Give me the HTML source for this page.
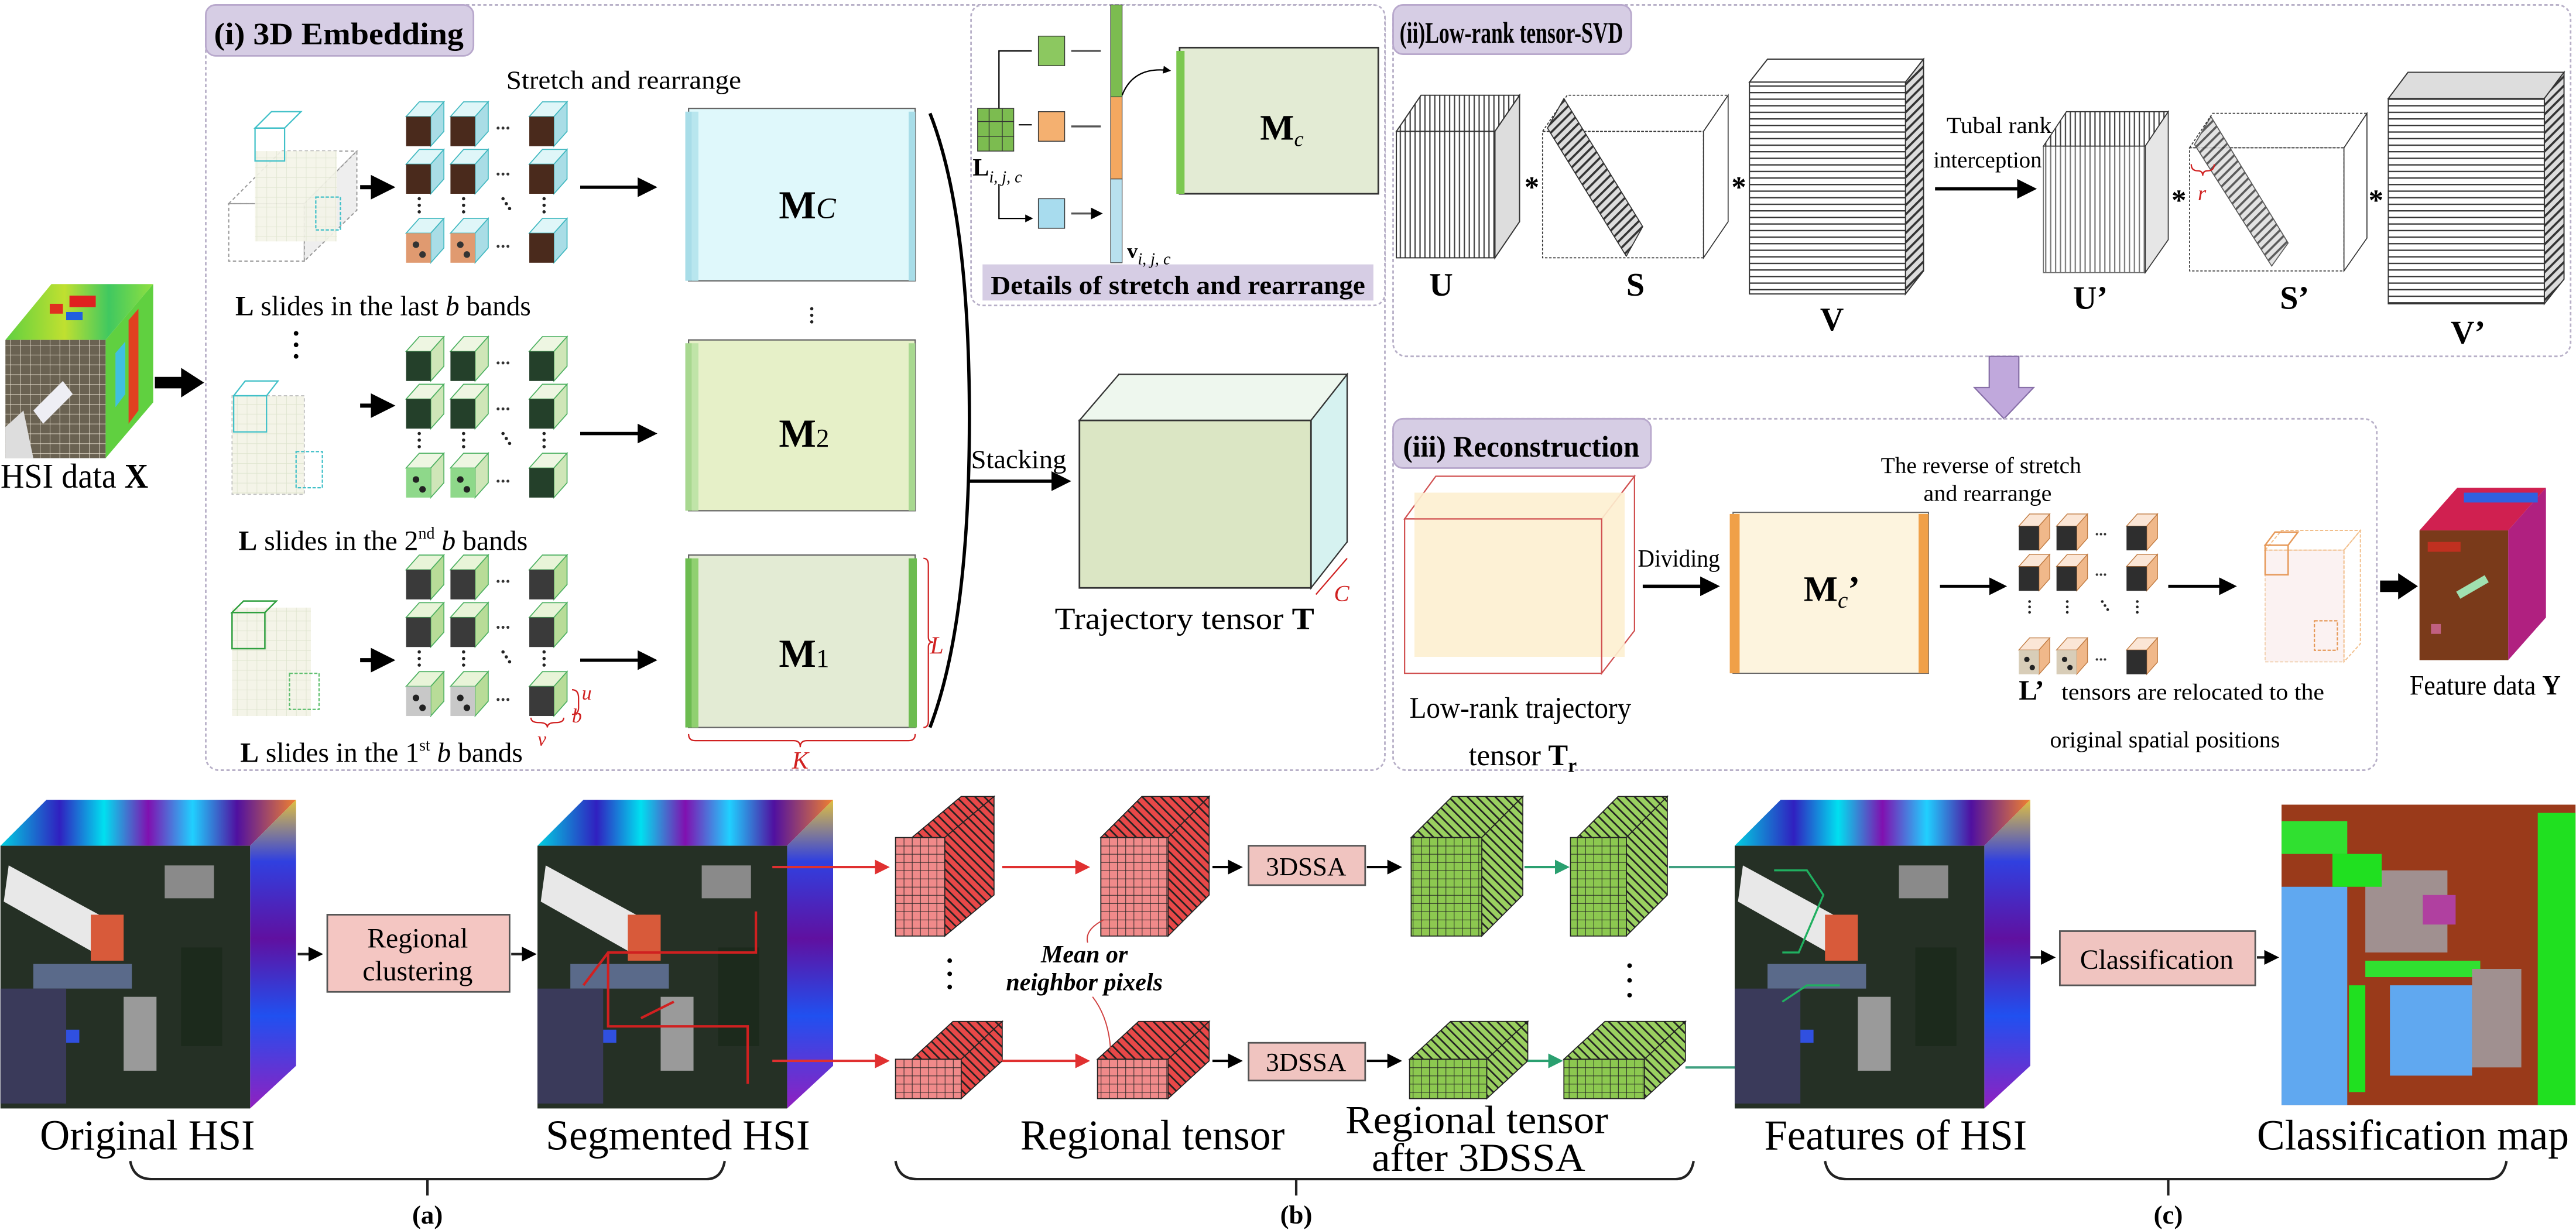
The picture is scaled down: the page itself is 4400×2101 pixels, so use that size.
<!DOCTYPE html>
<html><head><meta charset="utf-8"><style>
html,body{margin:0;padding:0;background:#fff}
svg{display:block}
text{font-family:"Liberation Serif",serif}
</style></head><body>
<svg width="4400" height="2101" viewBox="0 0 1568 749" xmlns="http://www.w3.org/2000/svg" font-family="Liberation Serif, serif">
<defs>
<marker id="ah" markerWidth="6" markerHeight="6" refX="5" refY="3" orient="auto" markerUnits="strokeWidth"><path d="M0,0 L6,3 L0,6z" fill="#000"/></marker>
<marker id="ahr" markerWidth="6" markerHeight="6" refX="5" refY="3" orient="auto" markerUnits="strokeWidth"><path d="M0,0 L6,3 L0,6z" fill="#e03030"/></marker>
<marker id="ahg" markerWidth="6" markerHeight="6" refX="5" refY="3" orient="auto" markerUnits="strokeWidth"><path d="M0,0 L6,3 L0,6z" fill="#2aa070"/></marker>
<pattern id="vstr" width="3" height="10" patternUnits="userSpaceOnUse"><rect width="3" height="10" fill="#fff"/><rect width="0.8" height="10" fill="#444"/></pattern>
<pattern id="hstr" width="10" height="4" patternUnits="userSpaceOnUse"><rect width="10" height="4" fill="#fff"/><rect width="10" height="0.8" fill="#333"/></pattern>
<pattern id="dstr" width="4" height="4" patternUnits="userSpaceOnUse" patternTransform="rotate(45)"><rect width="4" height="4" fill="#ddd"/><rect width="1.3" height="4" fill="#333"/></pattern>
<pattern id="rgrid" width="5" height="5" patternUnits="userSpaceOnUse"><rect width="5" height="5" fill="#f08a8a"/><path d="M0,0H5M0,0V5" stroke="#222" stroke-width="0.7"/></pattern>
<pattern id="rdiag" width="4" height="4" patternUnits="userSpaceOnUse" patternTransform="rotate(-45)"><rect width="4" height="4" fill="#e84848"/><rect width="1" height="4" fill="#222"/></pattern>
<pattern id="ggrid" width="5" height="5" patternUnits="userSpaceOnUse"><rect width="5" height="5" fill="#8cc850"/><path d="M0,0H5M0,0V5" stroke="#222" stroke-width="0.7"/></pattern>
<pattern id="gdiag" width="4" height="4" patternUnits="userSpaceOnUse" patternTransform="rotate(-45)"><rect width="4" height="4" fill="#9ad060"/><rect width="1" height="4" fill="#222"/></pattern>
<pattern id="lgrid" width="6" height="6" patternUnits="userSpaceOnUse"><rect width="6" height="6" fill="#f4f4e8"/><path d="M0,0H6M0,0V6" stroke="#dde3cc" stroke-width="0.6"/></pattern>
<pattern id="xgrid" width="6" height="6" patternUnits="userSpaceOnUse"><rect width="6" height="6" fill="none"/><path d="M0,0H6M0,0V6" stroke="#e8e0d0" stroke-width="0.6"/></pattern>
<linearGradient id="hsitop" x1="0" x2="1"><stop offset="0" stop-color="#00d0e0"/><stop offset=".2" stop-color="#3020c0"/><stop offset=".35" stop-color="#00e0f0"/><stop offset=".5" stop-color="#8010b0"/><stop offset=".65" stop-color="#20d0ff"/><stop offset=".8" stop-color="#5010a0"/><stop offset="1" stop-color="#f08030"/></linearGradient>
<linearGradient id="hsiside" x1="0" y1="0" x2="0" y2="1"><stop offset="0" stop-color="#e0c040"/><stop offset=".2" stop-color="#3040e0"/><stop offset=".45" stop-color="#6010a0"/><stop offset=".7" stop-color="#2050f0"/><stop offset="1" stop-color="#9020c0"/></linearGradient>
<linearGradient id="xtop" x1="0" x2="1"><stop offset="0" stop-color="#60d040"/><stop offset=".4" stop-color="#c0e030"/><stop offset=".7" stop-color="#40c860"/><stop offset="1" stop-color="#90e040"/></linearGradient>
<g id="cC"><polygon points="0,9 8,0 23,0 15,9" fill="#dff6f8" stroke="#40b8c0" stroke-width=".6"/><polygon points="15,9 23,0 23,18 15,27" fill="#a9dde6" stroke="#40b8c0" stroke-width=".6"/><rect x="0" y="9" width="15" height="18" fill="#4a2a1c"/></g>
<g id="cCo"><polygon points="0,9 8,0 23,0 15,9" fill="#dff6f8" stroke="#40b8c0" stroke-width=".6"/><polygon points="15,9 23,0 23,18 15,27" fill="#a9dde6" stroke="#40b8c0" stroke-width=".6"/><rect x="0" y="9" width="15" height="18" fill="#e09a70"/><circle cx="6" cy="16" r="2" fill="#333"/><circle cx="10" cy="22" r="2" fill="#333"/></g>
<g id="cG"><polygon points="0,9 8,0 23,0 15,9" fill="#eef6e2" stroke="#4cb060" stroke-width=".6"/><polygon points="15,9 23,0 23,18 15,27" fill="#cfe6b8" stroke="#4cb060" stroke-width=".6"/><rect x="0" y="9" width="15" height="18" fill="#24402a"/></g>
<g id="cGl"><polygon points="0,9 8,0 23,0 15,9" fill="#eef6e2" stroke="#4cb060" stroke-width=".6"/><polygon points="15,9 23,0 23,18 15,27" fill="#cfe6b8" stroke="#4cb060" stroke-width=".6"/><rect x="0" y="9" width="15" height="18" fill="#8ed88a"/><circle cx="6" cy="16" r="2" fill="#222"/><circle cx="10" cy="22" r="2" fill="#222"/></g>
<g id="cK"><polygon points="0,9 8,0 23,0 15,9" fill="#e8f4d8" stroke="#4cb060" stroke-width=".6"/><polygon points="15,9 23,0 23,18 15,27" fill="#b8dc98" stroke="#4cb060" stroke-width=".6"/><rect x="0" y="9" width="15" height="18" fill="#3a3a3a"/></g>
<g id="cKl"><polygon points="0,9 8,0 23,0 15,9" fill="#e8f4d8" stroke="#4cb060" stroke-width=".6"/><polygon points="15,9 23,0 23,18 15,27" fill="#b8dc98" stroke="#4cb060" stroke-width=".6"/><rect x="0" y="9" width="15" height="18" fill="#c8c8c8"/><circle cx="6" cy="16" r="2" fill="#222"/><circle cx="10" cy="22" r="2" fill="#222"/></g>
<g id="cO"><polygon points="0,9 8,0 23,0 15,9" fill="#fbe6d6" stroke="#c07a40" stroke-width=".6"/><polygon points="15,9 23,0 23,18 15,27" fill="#f0b88a" stroke="#c07a40" stroke-width=".6"/><rect x="0" y="9" width="15" height="18" fill="#2e2e2e"/></g>
<g id="cOl"><polygon points="0,9 8,0 23,0 15,9" fill="#fbe6d6" stroke="#c07a40" stroke-width=".6"/><polygon points="15,9 23,0 23,18 15,27" fill="#f0b88a" stroke="#c07a40" stroke-width=".6"/><rect x="0" y="9" width="15" height="18" fill="#d8cdb8"/><circle cx="6" cy="16" r="2" fill="#222"/><circle cx="10" cy="22" r="2" fill="#222"/></g>
<g id="dots"><circle cx="0" cy="0" r=".9" fill="#333"/><circle cx="3" cy="0" r=".9" fill="#333"/><circle cx="6" cy="0" r=".9" fill="#333"/></g>
<g id="vdots"><circle cx="0" cy="0" r="1" fill="#222"/><circle cx="0" cy="4" r="1" fill="#222"/><circle cx="0" cy="8" r="1" fill="#222"/></g>
<g id="ddots"><circle cx="0" cy="0" r="1" fill="#222"/><circle cx="2" cy="3" r="1" fill="#222"/><circle cx="4" cy="6" r="1" fill="#222"/></g>
<g id="hsi">
<polygon points="0,28 28,0 180,0 152,28" fill="url(#hsitop)"/>
<polygon points="152,28 180,0 180,162 152,188" fill="url(#hsiside)"/>
<rect x="0" y="28" width="152" height="160" fill="#253025"/>
<polygon points="5,40 60,70 55,92 2,62" fill="#e8e8e8"/>
<rect x="55" y="70" width="20" height="28" fill="#d85a3a"/>
<rect x="20" y="100" width="60" height="15" fill="#5a6a8a"/>
<rect x="0" y="115" width="40" height="70" fill="#3a3a5a"/>
<rect x="75" y="120" width="20" height="45" fill="#9a9a9a"/>
<rect x="40" y="140" width="8" height="8" fill="#3050e0"/>
<rect x="100" y="40" width="30" height="20" fill="#8a8a8a"/>
<rect x="110" y="90" width="25" height="60" fill="#1c2a1c"/>
</g>
</defs>

<!-- ============ TOP LEFT: HSI X ============ -->
<polygon points="3,207 31,173 93,173 64,207" fill="url(#xtop)"/>
<rect x="30" y="185" width="8" height="6" fill="#e03020"/><rect x="42" y="180" width="16" height="7" fill="#e02020"/><rect x="40" y="190" width="10" height="5" fill="#2060e0"/>
<polygon points="64,207 93,173 93,245 64,279" fill="#60d040"/>
<polygon points="78,195 84,188 84,250 78,258" fill="#e04020"/>
<polygon points="70,215 76,208 76,240 70,248" fill="#40c0e0"/>
<rect x="3" y="207" width="61" height="72" fill="#6a6252"/>
<rect x="3" y="207" width="61" height="72" fill="url(#xgrid)"/>
<polygon points="20,250 38,232 44,240 26,258" fill="#eeeef4"/>
<polygon points="3,260 14,250 20,279 3,279" fill="#ddd"/>
<text x="0" y="297" font-size="21" textLength="90" lengthAdjust="spacingAndGlyphs">HSI data <tspan font-weight="bold">X</tspan></text>
<path d="M94,233 H112" stroke="#000" stroke-width="7"/><polygon points="110,224 124,233 110,242" fill="#000"/>

<!-- ============ PANEL (i) ============ -->
<rect x="125" y="3" width="718" height="466" rx="8" fill="none" stroke="#b8b0c8" stroke-width="1" stroke-dasharray="2,1.5"/>
<rect x="125" y="3" width="163" height="31" rx="6" fill="#d6cde4" stroke="#b8a8cc"/>
<text x="130" y="27" font-size="19" font-weight="bold" textLength="152" lengthAdjust="spacingAndGlyphs">(i) 3D Embedding</text>
<text x="308" y="54" font-size="16" textLength="143" lengthAdjust="spacingAndGlyphs">Stretch and rearrange</text>

<g>
<polygon points="139,124 171,92 217,92 185,124" fill="none" stroke="#999" stroke-dasharray="2,1.5" stroke-width=".7"/>
<rect x="139" y="124" width="46" height="35" fill="none" stroke="#999" stroke-dasharray="2,1.5" stroke-width=".7"/>
<polygon points="185,124 217,92 217,128 185,159" fill="#eeeeee" stroke="#999" stroke-dasharray="2,1.5" stroke-width=".7"/>
<rect x="155" y="92" width="50" height="55" fill="url(#lgrid)" opacity=".9"/>
<rect x="155" y="78" width="18" height="20" fill="none" stroke="#40c0c8" stroke-width=".8"/>
<polygon points="155,78 165,68 183,68 173,78" fill="none" stroke="#40c0c8" stroke-width=".8"/>
<rect x="192" y="120" width="15" height="20" fill="none" stroke="#40c0c8" stroke-width=".8" stroke-dasharray="2,1"/>
<path d="M219,114 H238" stroke="#000" stroke-width="2.5" marker-end="url(#ah)"/>
<use href="#cC" x="247" y="62"/><use href="#cC" x="274" y="62"/><use href="#cC" x="322" y="62"/>
<use href="#cC" x="247" y="91"/><use href="#cC" x="274" y="91"/><use href="#cC" x="322" y="91"/>
<use href="#cCo" x="247" y="133"/><use href="#cCo" x="274" y="133"/><use href="#cC" x="322" y="133"/>
<use href="#dots" x="303" y="78"/><use href="#dots" x="303" y="106"/><use href="#dots" x="303" y="150"/>
<use href="#vdots" x="255" y="121"/><use href="#vdots" x="282" y="121"/><use href="#ddots" x="306" y="121"/><use href="#vdots" x="331" y="121"/>
<path d="M353,114 H398" stroke="#000" stroke-width="2" marker-end="url(#ah)"/>
<text x="143" y="192" font-size="17" textLength="180" lengthAdjust="spacingAndGlyphs"><tspan font-weight="bold">L</tspan> slides in the last <tspan font-style="italic">b</tspan> bands</text>
</g>
<circle cx="180" cy="203" r="1.4"/><circle cx="180" cy="210" r="1.4"/><circle cx="180" cy="217" r="1.4"/>

<g>
<rect x="141" y="241" width="44" height="60" fill="url(#lgrid)" stroke="#bbb" stroke-dasharray="2,1.5" stroke-width=".6"/>
<rect x="142" y="241" width="20" height="22" fill="none" stroke="#40c0c8" stroke-width=".8"/>
<polygon points="142,241 149,232 169,232 162,241" fill="none" stroke="#40c0c8" stroke-width=".8"/>
<rect x="180" y="275" width="16" height="22" fill="none" stroke="#40c0c8" stroke-width=".8" stroke-dasharray="2,1"/>
<path d="M219,247 H238" stroke="#000" stroke-width="2.5" marker-end="url(#ah)"/>
<use href="#cG" x="247" y="205"/><use href="#cG" x="274" y="205"/><use href="#cG" x="322" y="205"/>
<use href="#cG" x="247" y="234"/><use href="#cG" x="274" y="234"/><use href="#cG" x="322" y="234"/>
<use href="#cGl" x="247" y="276"/><use href="#cGl" x="274" y="276"/><use href="#cG" x="322" y="276"/>
<use href="#dots" x="303" y="221"/><use href="#dots" x="303" y="249"/><use href="#dots" x="303" y="293"/>
<use href="#vdots" x="255" y="264"/><use href="#vdots" x="282" y="264"/><use href="#ddots" x="306" y="264"/><use href="#vdots" x="331" y="264"/>
<path d="M353,264 H398" stroke="#000" stroke-width="2" marker-end="url(#ah)"/>
<text x="145" y="335" font-size="17" textLength="176" lengthAdjust="spacingAndGlyphs"><tspan font-weight="bold">L</tspan> slides in the 2<tspan font-size="10" dy="-7">nd</tspan><tspan dy="7"> </tspan><tspan font-style="italic">b</tspan> bands</text>
</g>

<g>
<rect x="141" y="370" width="48" height="66" fill="url(#lgrid)"/>
<rect x="141" y="373" width="20" height="22" fill="none" stroke="#30a040" stroke-width=".9"/>
<polygon points="141,373 148,366 168,366 161,373" fill="none" stroke="#30a040" stroke-width=".9"/>
<rect x="176" y="410" width="18" height="22" fill="none" stroke="#60c070" stroke-width=".8" stroke-dasharray="2,1"/>
<path d="M219,402 H238" stroke="#000" stroke-width="2.5" marker-end="url(#ah)"/>
<use href="#cK" x="247" y="338"/><use href="#cK" x="274" y="338"/><use href="#cK" x="322" y="338"/>
<use href="#cK" x="247" y="367"/><use href="#cK" x="274" y="367"/><use href="#cK" x="322" y="367"/>
<use href="#cKl" x="247" y="409"/><use href="#cKl" x="274" y="409"/><use href="#cK" x="322" y="409"/>
<use href="#dots" x="303" y="354"/><use href="#dots" x="303" y="382"/><use href="#dots" x="303" y="426"/>
<use href="#vdots" x="255" y="397"/><use href="#vdots" x="282" y="397"/><use href="#ddots" x="306" y="397"/><use href="#vdots" x="331" y="397"/>
<path d="M353,402 H398" stroke="#000" stroke-width="2" marker-end="url(#ah)"/>
<path d="M348,420 q4,0 4,5 v6 q0,4 -4,4" fill="none" stroke="#d02020" stroke-width=".8"/>
<text x="354" y="426" font-size="12" fill="#d02020" font-style="italic">u</text>
<text x="348" y="440" font-size="12" fill="#d02020" font-style="italic">b</text>
<path d="M323,437 q0,3 5,3 q5,0 5,3 q0,-3 5,-3 q5,0 5,-3" fill="none" stroke="#d02020" stroke-width=".8"/>
<text x="327" y="454" font-size="12" fill="#d02020" font-style="italic">v</text>
<text x="146" y="464" font-size="17" textLength="172" lengthAdjust="spacingAndGlyphs"><tspan font-weight="bold">L</tspan> slides in the 1<tspan font-size="10" dy="-7">st</tspan><tspan dy="7"> </tspan><tspan font-style="italic">b</tspan> bands</text>
</g>

<g>
<rect x="419" y="66" width="138" height="105" fill="#dff8fb" stroke="#666" stroke-width=".8"/>
<rect x="417" y="68" width="4" height="103" fill="#a8dde8"/><rect x="421" y="68" width="4" height="103" fill="#b8e6ee"/>
<rect x="553" y="68" width="4" height="103" fill="#a8dde8"/>
<text x="474" y="133" font-size="24" font-weight="bold">M<tspan font-size="18" font-style="italic" font-weight="normal">C</tspan></text>
<use href="#vdots" x="494" y="188"/>
<rect x="419" y="207" width="138" height="104" fill="#e6f0c8" stroke="#666" stroke-width=".8"/>
<rect x="417" y="209" width="4" height="102" fill="#a8d890"/><rect x="421" y="209" width="4" height="102" fill="#c0e4a8"/>
<rect x="553" y="209" width="4" height="102" fill="#a8d890"/>
<text x="474" y="272" font-size="24" font-weight="bold">M<tspan font-size="16" font-weight="normal">2</tspan></text>
<rect x="419" y="338" width="138" height="105" fill="#e3ebd4" stroke="#666" stroke-width=".8"/>
<rect x="417" y="340" width="4" height="103" fill="#6cbc50"/><rect x="421" y="340" width="4" height="103" fill="#90d070"/>
<rect x="553" y="340" width="5" height="103" fill="#6cbc50"/>
<text x="474" y="406" font-size="24" font-weight="bold">M<tspan font-size="16" font-weight="normal">1</tspan></text>
<path d="M562,340 q3,0 3,4 v44 q0,3 3,3 q-3,0 -3,3 v45 q0,4 -3,4" fill="none" stroke="#d02020" stroke-width=".8"/>
<text x="566" y="398" font-size="15" fill="#d02020" font-style="italic">L</text>
<path d="M419,447 q0,4 4,4 h60 q4,0 4,4 q0,-4 4,-4 h62 q4,0 4,-4" fill="none" stroke="#d02020" stroke-width=".8"/>
<text x="482" y="468" font-size="15" fill="#d02020" font-style="italic">K</text>
<path d="M566,69 Q590,130 590,255 Q590,380 566,443" fill="none" stroke="#000" stroke-width="2"/>
</g>

<path d="M590,293 H650" stroke="#000" stroke-width="2" marker-end="url(#ah)"/>
<text x="591" y="285" font-size="16" textLength="58" lengthAdjust="spacingAndGlyphs">Stacking</text>
<g>
<polygon points="681,228 820,228 820,330 681,330" fill="#ddf6f8" stroke="#333" stroke-width=".8"/>
<polygon points="657,256 681,228 820,228 798,256" fill="#eef7ee" stroke="#333" stroke-width=".8"/>
<polygon points="798,256 820,228 820,330 798,358" fill="#d6f2f0" stroke="#333" stroke-width=".8"/>
<rect x="657" y="256" width="141" height="102" fill="#dbe6c4" stroke="#333" stroke-width="1"/>
<path d="M801,362 L820,340" stroke="#d02020" stroke-width=".8"/>
<text x="812" y="366" font-size="14" fill="#d02020" font-style="italic">C</text>
<text x="642" y="383" font-size="19" textLength="158" lengthAdjust="spacingAndGlyphs">Trajectory tensor <tspan font-weight="bold">T</tspan></text>
</g>

<g>
<rect x="591" y="3" width="252" height="183" rx="7" fill="#fff" stroke="#b8b0c8" stroke-dasharray="2,1.5"/>
<rect x="598" y="161" width="238" height="22" fill="#d6cde4"/>
<text x="603" y="179" font-size="16" font-weight="bold" textLength="228" lengthAdjust="spacingAndGlyphs">Details of stretch and rearrange</text>
<rect x="595" y="66" width="22" height="26" fill="#7cbc50" stroke="#333" stroke-width=".5"/>
<path d="M595,74H617M595,83H617M602,66V92M610,66V92" stroke="#333" stroke-width=".5"/>
<rect x="632" y="22" width="16" height="18" fill="#8cc860" stroke="#333" stroke-width=".5"/>
<rect x="632" y="68" width="16" height="18" fill="#f4b070" stroke="#333" stroke-width=".5"/>
<rect x="632" y="121" width="16" height="18" fill="#a8dcee" stroke="#333" stroke-width=".5"/>
<path d="M608,66 V31 H628 M620,76 H628 M608,112 V133 H628" fill="none" stroke="#000" stroke-width=".8" marker-end="url(#ah)"/>
<path d="M652,31 H670 M652,77 H670 M652,130 H670" stroke="#555" stroke-width="1.2" marker-end="url(#ah)"/>
<rect x="676" y="3" width="7" height="56" fill="#7cbc50" stroke="#333" stroke-width=".4"/>
<rect x="676" y="59" width="7" height="50" fill="#f4a860" stroke="#333" stroke-width=".4"/>
<rect x="676" y="109" width="7" height="51" fill="#b8e0ee" stroke="#333" stroke-width=".4"/>
<path d="M683,58 Q690,40 712,43" fill="none" stroke="#000" stroke-width=".8" marker-end="url(#ah)"/>
<rect x="718" y="29" width="121" height="89" fill="#e3ebd4" stroke="#333" stroke-width="1"/>
<rect x="716" y="31" width="5" height="87" fill="#7cc850"/>
<text x="767" y="85" font-size="22" font-weight="bold">M<tspan font-size="13" font-style="italic" font-weight="normal" dy="4">c</tspan></text>
<text x="592" y="107" font-size="15" font-weight="bold">L<tspan font-size="10" font-style="italic" font-weight="normal" dy="4">i, j, c</tspan></text>
<text x="686" y="157" font-size="13" font-weight="bold">v<tspan font-size="10" font-style="italic" font-weight="normal" dy="4">i, j, c</tspan></text>
</g>

<!-- ============ PANEL (ii) ============ -->
<rect x="848" y="3" width="717" height="214" rx="8" fill="none" stroke="#b8b0c8" stroke-dasharray="2,1.5"/>
<rect x="848" y="3" width="145" height="30" rx="6" fill="#d6cde4" stroke="#b8a8cc"/>
<text x="852" y="26" font-size="18" font-weight="bold" textLength="136" lengthAdjust="spacingAndGlyphs">(ii)Low-rank tensor-SVD</text>
<polygon points="850,80 865,58 925,58 910,80" fill="url(#vstr)" stroke="#333" stroke-width=".7"/>
<polygon points="910,80 925,58 925,135 910,157" fill="#ddd" stroke="#333" stroke-width=".7"/>
<rect x="850" y="80" width="60" height="77" fill="url(#vstr)" stroke="#333" stroke-width=".7"/>
<text x="870" y="180" font-size="20" font-weight="bold">U</text>
<text x="928" y="120" font-size="18" font-weight="bold">*</text>
<polygon points="939,80 954,58 1052,58 1037,80" fill="none" stroke="#333" stroke-width=".6" stroke-dasharray="1.5,1"/>
<rect x="939" y="80" width="98" height="77" fill="none" stroke="#333" stroke-width=".6" stroke-dasharray="1.5,1"/>
<polygon points="1037,80 1052,58 1052,135 1037,157" fill="none" stroke="#333" stroke-width=".6"/>
<polygon points="942,78 952,60 1000,138 990,156" fill="url(#dstr)" stroke="#333" stroke-width=".6"/>
<text x="990" y="180" font-size="20" font-weight="bold">S</text>
<text x="1054" y="120" font-size="18" font-weight="bold">*</text>
<polygon points="1065,50 1076,36 1171,36 1160,50" fill="#fff" stroke="#333" stroke-width=".7"/>
<polygon points="1160,50 1171,36 1171,165 1160,179" fill="url(#dstr)" stroke="#333" stroke-width=".7"/>
<rect x="1065" y="50" width="95" height="129" fill="url(#hstr)" stroke="#333" stroke-width=".7"/>
<text x="1108" y="201" font-size="20" font-weight="bold">V</text>
<text x="1185" y="81" font-size="14" textLength="64" lengthAdjust="spacingAndGlyphs">Tubal rank</text>
<text x="1177" y="102" font-size="14" textLength="66" lengthAdjust="spacingAndGlyphs">interception</text>
<path d="M1178,115 H1238" stroke="#000" stroke-width="2" marker-end="url(#ah)"/>
<polygon points="1244,89 1258,68 1320,68 1306,89" fill="url(#vstr)" stroke="#333" stroke-width=".6"/>
<polygon points="1306,89 1320,68 1320,146 1306,166" fill="#e6e6e6" stroke="#333" stroke-width=".6"/>
<rect x="1244" y="89" width="62" height="77" fill="url(#vstr)" stroke="#333" stroke-width=".6" opacity=".7"/>
<text x="1262" y="188" font-size="20" font-weight="bold">U’</text>
<text x="1322" y="128" font-size="18" font-weight="bold">*</text>
<polygon points="1333,90 1347,69 1441,69 1427,90" fill="none" stroke="#333" stroke-width=".6" stroke-dasharray="1.5,1"/>
<rect x="1333" y="90" width="94" height="75" fill="none" stroke="#333" stroke-width=".6" stroke-dasharray="1.5,1"/>
<polygon points="1427,90 1441,69 1441,145 1427,165" fill="none" stroke="#333" stroke-width=".6"/>
<polygon points="1336,88 1346,71 1393,148 1383,162" fill="url(#dstr)" stroke="#333" stroke-width=".6" opacity=".8"/>
<path d="M1334,100 q0,4 4,4 q3,0 3,3 q0,-3 3,-3 q4,0 4,-4" fill="none" stroke="#d02020" stroke-width=".8"/>
<text x="1338" y="122" font-size="13" fill="#d02020" font-style="italic">r</text>
<text x="1388" y="188" font-size="20" font-weight="bold">S’</text>
<text x="1442" y="128" font-size="18" font-weight="bold">*</text>
<polygon points="1454,60 1466,44 1561,44 1549,60" fill="#ddd" stroke="#333" stroke-width=".7"/>
<polygon points="1549,60 1561,44 1561,170 1549,185" fill="url(#dstr)" stroke="#333" stroke-width=".7"/>
<rect x="1454" y="60" width="95" height="125" fill="url(#hstr)" stroke="#333" stroke-width=".7"/>
<text x="1492" y="209" font-size="20" font-weight="bold">V’</text>

<polygon points="1211,217 1229,217 1229,236 1238,236 1220,255 1202,236 1211,236" fill="#c0a8dc" stroke="#8870a8" stroke-width=".8"/>

<!-- ============ PANEL (iii) ============ -->
<rect x="848" y="255" width="599" height="214" rx="8" fill="none" stroke="#b8b0c8" stroke-dasharray="2,1.5"/>
<rect x="848" y="255" width="157" height="30" rx="6" fill="#d6cde4" stroke="#b8a8cc"/>
<text x="854" y="278" font-size="18" font-weight="bold" textLength="144" lengthAdjust="spacingAndGlyphs">(iii) Reconstruction</text>
<polygon points="855,316 874,290 995,290 975,316" fill="#fff" stroke="#d05050" stroke-width=".8"/>
<polygon points="975,316 995,290 995,384 975,410" fill="#fff" stroke="#d05050" stroke-width=".8"/>
<rect x="861" y="300" width="128" height="100" fill="#fdf0d0" opacity=".9"/>
<rect x="855" y="316" width="120" height="94" fill="none" stroke="#d05050" stroke-width=".8"/>
<text x="858" y="437" font-size="18" textLength="135" lengthAdjust="spacingAndGlyphs">Low-rank trajectory</text>
<text x="894" y="466" font-size="18">tensor <tspan font-weight="bold">T</tspan><tspan font-size="12" font-weight="bold" dy="4">r</tspan></text>
<text x="997" y="345" font-size="15" textLength="50" lengthAdjust="spacingAndGlyphs">Dividing</text>
<path d="M1000,357 H1045" stroke="#000" stroke-width="2" marker-end="url(#ah)"/>
<rect x="1055" y="312" width="119" height="98" fill="#fdf4de" stroke="#666" stroke-width=".7"/>
<rect x="1053" y="313" width="6" height="97" fill="#f0a048"/>
<rect x="1168" y="313" width="6" height="97" fill="#f0a048"/>
<text x="1098" y="366" font-size="22" font-weight="bold">M<tspan font-size="14" font-style="italic" font-weight="normal" dy="4">c</tspan><tspan dy="-4">’</tspan></text>
<text x="1145" y="288" font-size="14" textLength="122" lengthAdjust="spacingAndGlyphs">The reverse of stretch</text>
<text x="1171" y="305" font-size="14" textLength="78" lengthAdjust="spacingAndGlyphs">and rearrange</text>
<path d="M1181,357 H1220" stroke="#000" stroke-width="1.8" marker-end="url(#ah)"/>
<g transform="translate(1229,313) scale(0.82)">
<use href="#cO" x="0" y="0"/><use href="#cO" x="28" y="0"/><use href="#cO" x="80" y="0"/>
<use href="#cO" x="0" y="30"/><use href="#cO" x="28" y="30"/><use href="#cO" x="80" y="30"/>
<use href="#cOl" x="0" y="92"/><use href="#cOl" x="28" y="92"/><use href="#cO" x="80" y="92"/>
<use href="#dots" x="58" y="15"/><use href="#dots" x="58" y="45"/><use href="#dots" x="58" y="108"/>
<use href="#vdots" x="8" y="65"/><use href="#vdots" x="36" y="65"/><use href="#ddots" x="62" y="65"/><use href="#vdots" x="88" y="65"/>
</g>
<path d="M1320,357 H1360" stroke="#000" stroke-width="1.8" marker-end="url(#ah)"/>
<g opacity=".8">
<rect x="1379" y="335" width="48" height="68" fill="#fbf0f0" stroke="#f0c8a0" stroke-dasharray="2,1" stroke-width=".7"/>
<polygon points="1379,335 1389,323 1437,323 1427,335" fill="none" stroke="#f0b070" stroke-dasharray="2,1" stroke-width=".7"/>
<polygon points="1427,335 1437,323 1437,392 1427,403" fill="none" stroke="#f0b070" stroke-dasharray="2,1" stroke-width=".7"/>
<rect x="1379" y="332" width="14" height="18" fill="none" stroke="#e08030" stroke-width=".9"/>
<polygon points="1379,332 1385,324 1399,324 1393,332" fill="none" stroke="#e08030" stroke-width=".9"/>
<rect x="1409" y="378" width="14" height="18" fill="none" stroke="#e08030" stroke-width=".8" stroke-dasharray="2,1"/>
</g>
<text x="1229" y="426" font-size="17" font-weight="bold">L’</text>
<text x="1255" y="426" font-size="14" textLength="160" lengthAdjust="spacingAndGlyphs">tensors are relocated to the</text>
<text x="1248" y="455" font-size="14" textLength="140" lengthAdjust="spacingAndGlyphs">original spatial positions</text>
<path d="M1449,357 H1462" stroke="#000" stroke-width="7"/><polygon points="1460,349 1472,357 1460,365" fill="#000"/>
<polygon points="1473,323 1496,297 1550,297 1527,323" fill="#d02050"/>
<polygon points="1527,323 1550,297 1550,376 1527,402" fill="#b02080"/>
<rect x="1500" y="300" width="45" height="6" fill="#3060e0"/>
<rect x="1473" y="323" width="54" height="79" fill="#7a3a1a"/>
<rect x="1478" y="330" width="20" height="6" fill="#c03020"/><rect x="1495" y="355" width="20" height="5" fill="#a0e0b0" transform="rotate(-30 1505 357)"/>
<rect x="1480" y="380" width="6" height="6" fill="#c06080"/>
<text x="1467" y="423" font-size="17" textLength="92" lengthAdjust="spacingAndGlyphs">Feature data <tspan font-weight="bold">Y</tspan></text>

<!-- ============ BOTTOM ============ -->
<use href="#hsi" x="0" y="487"/>
<path d="M181,581 H195" stroke="#222" stroke-width="1.5" marker-end="url(#ah)"/>
<rect x="199" y="557" width="111" height="47" fill="#f4c6c2" stroke="#555" stroke-width="1"/>
<text x="254" y="577" font-size="17" text-anchor="middle">Regional</text>
<text x="254" y="597" font-size="17" text-anchor="middle">clustering</text>
<path d="M311,581 H325" stroke="#222" stroke-width="1.5" marker-end="url(#ah)"/>
<use href="#hsi" x="327" y="487"/>
<path d="M355,600 L370,580 H460 V555 M370,580 V625 H455 V660 M390,620 L410,610" fill="none" stroke="#d02020" stroke-width="1.5"/>
<path d="M470,528 H540" stroke="#e03030" stroke-width="1.5" marker-end="url(#ahr)"/>
<path d="M470,646 H540" stroke="#e03030" stroke-width="1.5" marker-end="url(#ahr)"/>

<g stroke="#222" stroke-width=".6">
<polygon points="555,510 585,485 605,485 575,510" fill="url(#rdiag)"/>
<polygon points="575,510 605,485 605,545 575,570" fill="url(#rdiag)"/>
<rect x="545" y="510" width="30" height="60" fill="url(#rgrid)"/>
<polygon points="670,510 695,485 736,485 711,510" fill="url(#rdiag)"/>
<polygon points="711,510 736,485 736,545 711,570" fill="url(#rdiag)"/>
<rect x="670" y="510" width="41" height="60" fill="url(#rgrid)"/>
<polygon points="555,645 580,622 610,622 585,645" fill="url(#rdiag)"/>
<polygon points="585,645 610,622 610,646 585,669" fill="url(#rdiag)"/>
<rect x="545" y="645" width="40" height="24" fill="url(#rgrid)"/>
<polygon points="668,645 693,622 736,622 711,645" fill="url(#rdiag)"/>
<polygon points="711,645 736,622 736,646 711,669" fill="url(#rdiag)"/>
<rect x="668" y="645" width="43" height="24" fill="url(#rgrid)"/>
</g>
<path d="M610,528 H662" stroke="#e03030" stroke-width="1.5" marker-end="url(#ahr)"/>
<path d="M610,646 H662" stroke="#e03030" stroke-width="1.5" marker-end="url(#ahr)"/>
<circle cx="578" cy="585" r="1.4"/><circle cx="578" cy="593" r="1.4"/><circle cx="578" cy="601" r="1.4"/>
<text x="660" y="586" font-size="15" font-style="italic" font-weight="bold" text-anchor="middle">Mean or</text>
<text x="660" y="603" font-size="15" font-style="italic" font-weight="bold" text-anchor="middle">neighbor pixels</text>
<path d="M672,560 Q660,566 662,574 M665,607 Q675,620 676,640" fill="none" stroke="#d04040" stroke-width=".7"/>
<path d="M738,528 H755" stroke="#000" stroke-width="1.5" marker-end="url(#ah)"/>
<path d="M738,646 H755" stroke="#000" stroke-width="1.5" marker-end="url(#ah)"/>
<rect x="760" y="515" width="71" height="24" fill="#f0c4c0" stroke="#555"/>
<text x="795" y="533" font-size="16" text-anchor="middle">3DSSA</text>
<rect x="760" y="635" width="71" height="23" fill="#f0c4c0" stroke="#555"/>
<text x="795" y="652" font-size="16" text-anchor="middle">3DSSA</text>
<path d="M832,528 H852" stroke="#000" stroke-width="1.5" marker-end="url(#ah)"/>
<path d="M832,646 H852" stroke="#000" stroke-width="1.5" marker-end="url(#ah)"/>
<g stroke="#222" stroke-width=".6">
<polygon points="859,510 884,485 927,485 902,510" fill="url(#gdiag)"/>
<polygon points="902,510 927,485 927,545 902,570" fill="url(#gdiag)"/>
<rect x="859" y="510" width="43" height="60" fill="url(#ggrid)"/>
<polygon points="960,510 985,485 1015,485 990,510" fill="url(#gdiag)"/>
<polygon points="990,510 1015,485 1015,545 990,570" fill="url(#gdiag)"/>
<rect x="956" y="510" width="34" height="60" fill="url(#ggrid)"/>
<polygon points="858,645 883,622 930,622 905,645" fill="url(#gdiag)"/>
<polygon points="905,645 930,622 930,646 905,669" fill="url(#gdiag)"/>
<rect x="858" y="645" width="47" height="24" fill="url(#ggrid)"/>
<polygon points="952,645 977,622 1026,622 1001,645" fill="url(#gdiag)"/>
<polygon points="1001,645 1026,622 1026,646 1001,669" fill="url(#gdiag)"/>
<rect x="952" y="645" width="49" height="24" fill="url(#ggrid)"/>
</g>
<path d="M928,528 H954" stroke="#2aa070" stroke-width="1.5" marker-end="url(#ahg)"/>
<path d="M930,646 H950" stroke="#2aa070" stroke-width="1.5" marker-end="url(#ahg)"/>
<circle cx="992" cy="588" r="1.4"/><circle cx="992" cy="597" r="1.4"/><circle cx="992" cy="606" r="1.4"/>
<path d="M1016,528 H1060 M1026,650 H1085 V580 L1095,565" fill="none" stroke="#40a080" stroke-width="1.5"/>
<use href="#hsi" x="1056" y="487"/>
<path d="M1080,530 H1100 L1110,545 L1095,580 L1085,580 M1085,610 L1100,600 H1120" fill="none" stroke="#20b060" stroke-width="1.2"/>
<path d="M1236,583 H1250" stroke="#222" stroke-width="1.5" marker-end="url(#ah)"/>
<rect x="1254" y="567" width="119" height="33" fill="#f0c4c0" stroke="#555"/>
<text x="1313" y="590" font-size="17" text-anchor="middle">Classification</text>
<path d="M1374,583 H1386" stroke="#222" stroke-width="1.5" marker-end="url(#ah)"/>
<g>
<rect x="1389" y="490" width="179" height="183" fill="#9a3a1a"/>
<rect x="1389" y="540" width="40" height="133" fill="#60a8f0"/>
<rect x="1440" y="530" width="50" height="50" fill="#a09090"/>
<rect x="1475" y="545" width="20" height="18" fill="#b040a0"/>
<rect x="1455" y="600" width="50" height="55" fill="#60a8f0"/>
<rect x="1545" y="495" width="23" height="178" fill="#20e020"/>
<rect x="1389" y="500" width="40" height="20" fill="#30e030"/>
<rect x="1440" y="585" width="70" height="10" fill="#30e030"/>
<rect x="1505" y="590" width="30" height="60" fill="#a09090"/>
<rect x="1420" y="520" width="30" height="20" fill="#20e020"/>
<rect x="1430" y="600" width="10" height="65" fill="#20e020"/>
</g>
<text x="24" y="700" font-size="26" textLength="131" lengthAdjust="spacingAndGlyphs">Original HSI</text>
<text x="332" y="700" font-size="26" textLength="161" lengthAdjust="spacingAndGlyphs">Segmented HSI</text>
<text x="621" y="700" font-size="26" textLength="161" lengthAdjust="spacingAndGlyphs">Regional tensor</text>
<text x="819" y="690" font-size="24" textLength="160" lengthAdjust="spacingAndGlyphs">Regional tensor</text>
<text x="835" y="713" font-size="24" textLength="130" lengthAdjust="spacingAndGlyphs">after 3DSSA</text>
<text x="1074" y="700" font-size="26" textLength="160" lengthAdjust="spacingAndGlyphs">Features of HSI</text>
<text x="1374" y="700" font-size="26" textLength="190" lengthAdjust="spacingAndGlyphs">Classification map</text>
<g fill="none" stroke="#222" stroke-width="1.5">
<path d="M79,707 Q81,718 92,718 H430 Q439,718 441,707"/>
<path d="M260,718 V728"/>
<path d="M545,707 Q547,718 558,718 H1020 Q1029,718 1031,707"/>
<path d="M789,718 V728"/>
<path d="M1111,707 Q1113,718 1124,718 H1515 Q1524,718 1526,707"/>
<path d="M1320,718 V728"/>
</g>
<text x="260" y="745" font-size="16" font-weight="bold" text-anchor="middle">(a)</text>
<text x="789" y="745" font-size="16" font-weight="bold" text-anchor="middle">(b)</text>
<text x="1320" y="745" font-size="16" font-weight="bold" text-anchor="middle">(c)</text>
</svg>
</body></html>
